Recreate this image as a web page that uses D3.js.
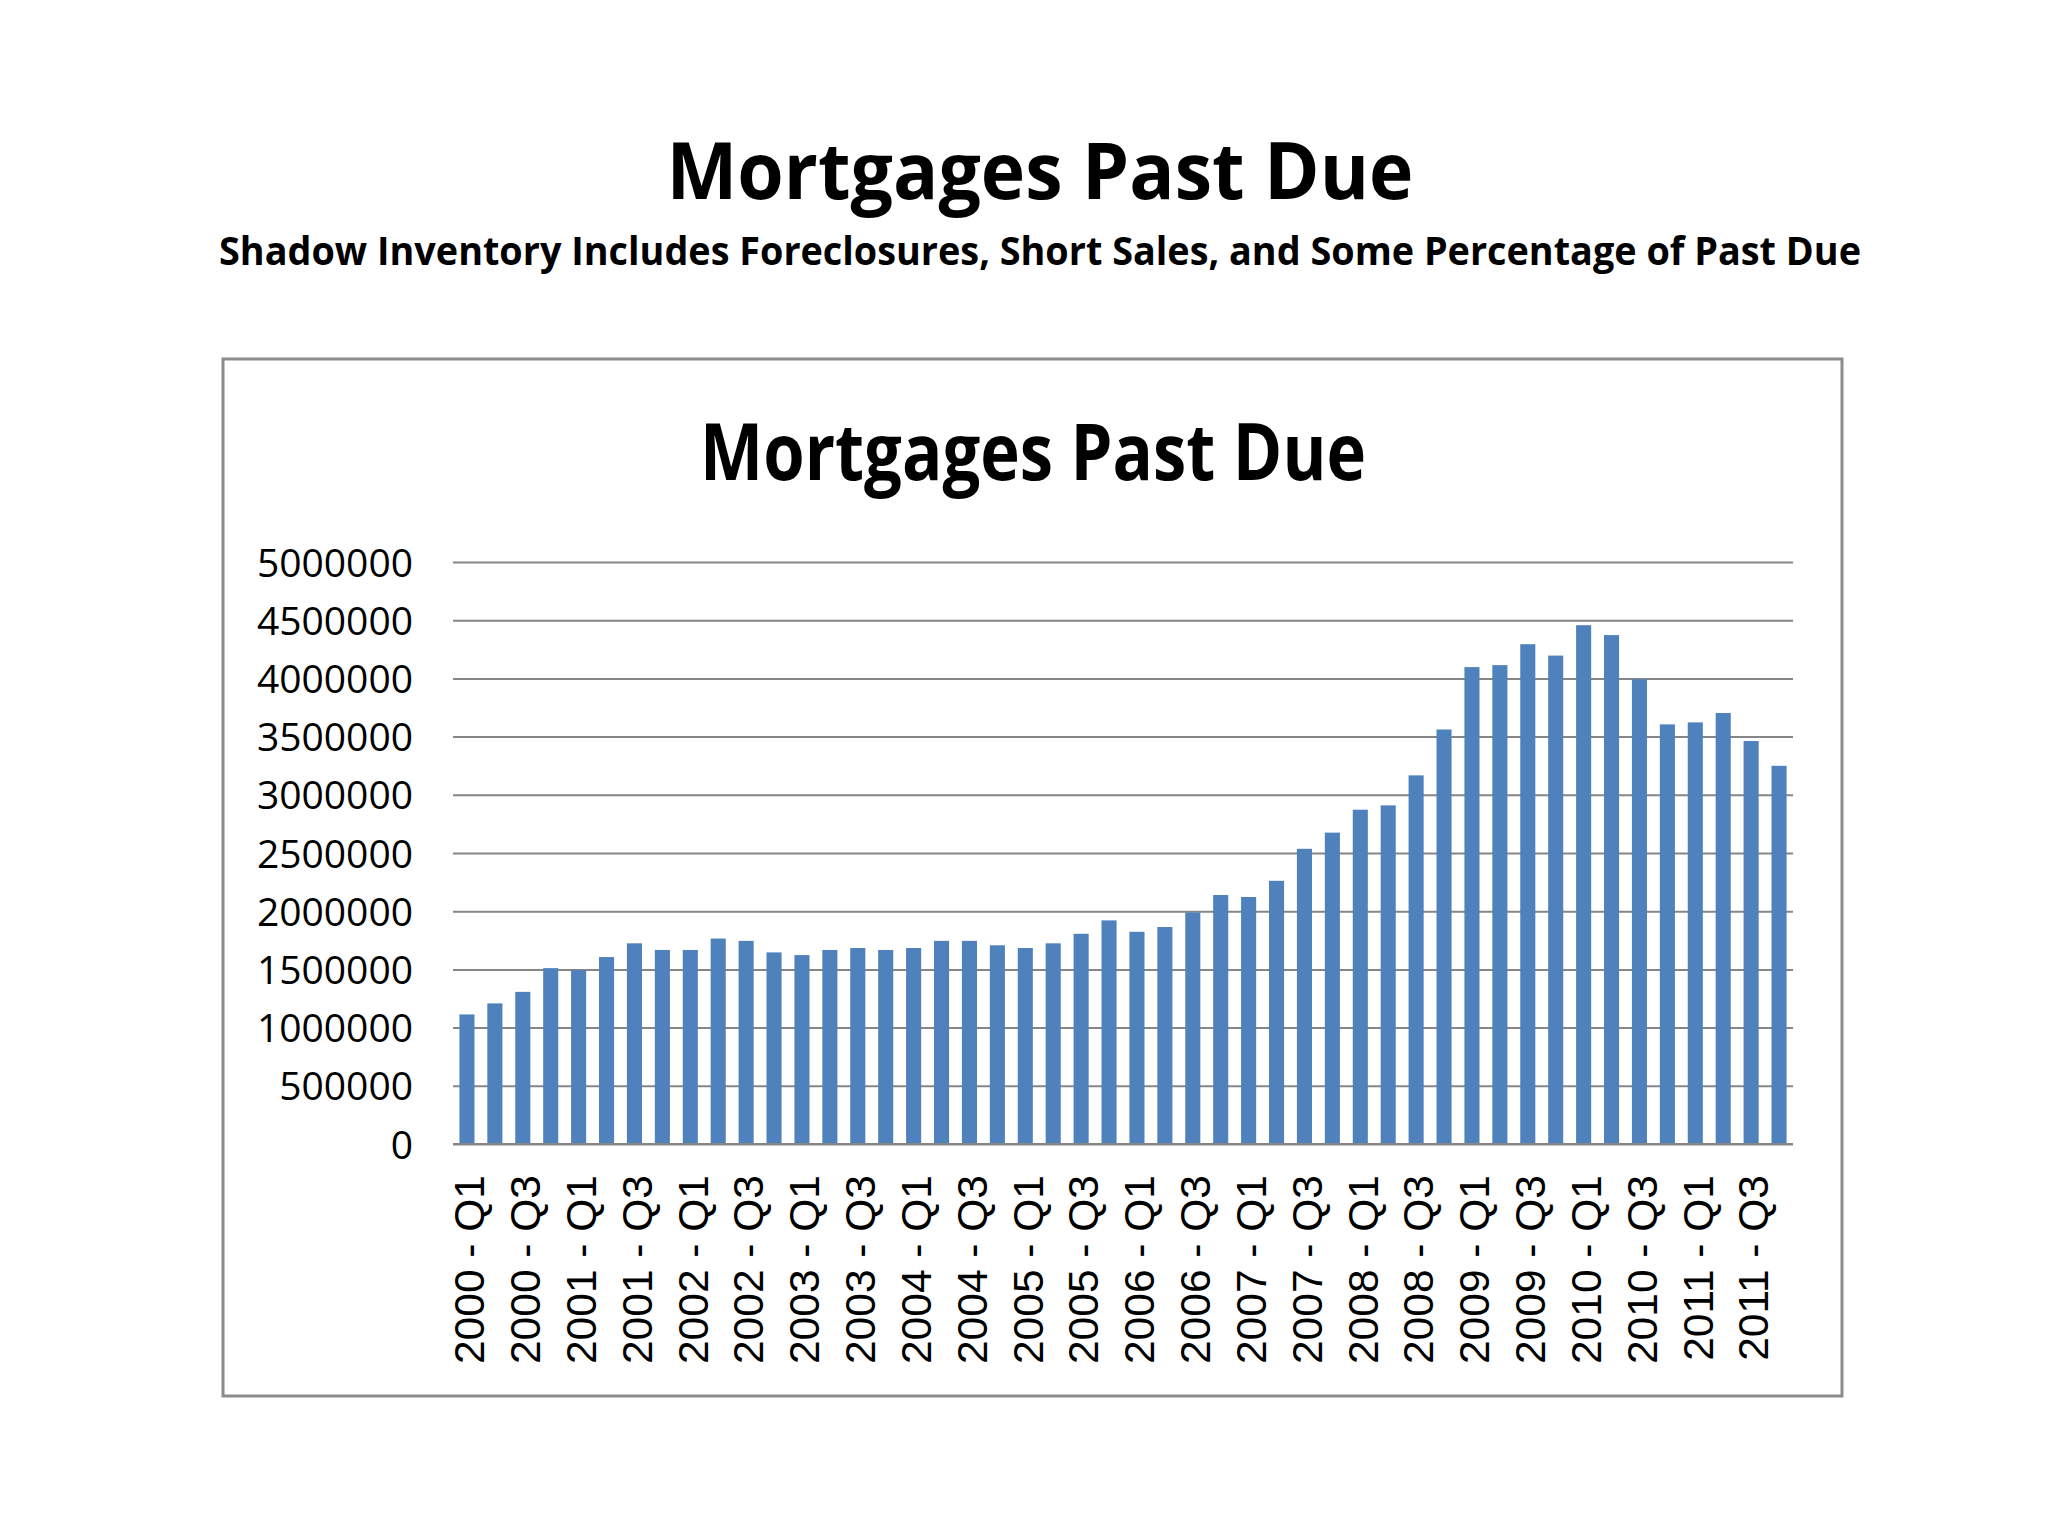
<!DOCTYPE html>
<html>
<head>
<meta charset="utf-8">
<script src="https://cdn.jsdelivr.net/npm/d3@7"></script>
<style>
  body { margin: 0; background: #fff; }
</style>
</head>
<body>
<div id="visual"></div>
<script>

///// DATA /////
var years = ["2000", "2001", "2002", "2003", "2004", "2005", "2006", "2007", "2008", "2009", "2010", "2011"];
var quarters = ["Q1", "Q2", "Q3", "Q4"];

// past due mortgages per quarter, 2000 Q1 .. 2011 Q4
var pastDue = [
	1113000, 1208000, 1307000, 1511000, 1494000, 1606000, 1724000, 1667000,
	1667000, 1765000, 1745000, 1646000, 1623000, 1667000, 1684000, 1667000,
	1684000, 1745000, 1745000, 1707000, 1684000, 1724000, 1806000, 1921000,
	1823000, 1864000, 1989000, 2139000, 2122000, 2261000, 2536000, 2675000,
	2872000, 2909000, 3167000, 3561000, 4097000, 4114000, 4294000, 4196000,
	4457000, 4372000, 3992000, 3605000, 3622000, 3703000, 3462000, 3249000
];

var yTicks = [0, 500000, 1000000, 1500000, 2000000, 2500000, 3000000, 3500000, 4000000, 4500000, 5000000];

var pageTitle = "Mortgages Past Due";
var pageSubtitle = "Shadow Inventory Includes Foreclosures, Short Sales, and Some Percentage of Past Due";
var chartTitle = "Mortgages Past Due";

// "2000 - Q1", "2000 - Q2", ...
var categories = [];
years.forEach(function(y) {
	quarters.forEach(function(q) { categories.push(y + " - " + q); });
});

///// DIMENSIONS /////
var W = 2048, H = 1536;
var plot = { left: 453, right: 1793, top: 562, bottom: 1144 };
var box = { x: 223, y: 359, w: 1619, h: 1037 };

var barColor = "#4f81bd",
	gridColor = "#868686";

var svg = d3.select("#visual")
	.append("svg")
	.attr("width", W)
	.attr("height", H)
	.style("background", "#fff");

///// PAGE TITLES /////
svg.append("text")
	.attr("x", 1040).attr("y", 199)
	.attr("text-anchor", "middle")
	.attr("textLength", 747)
	.attr("lengthAdjust", "spacingAndGlyphs")
	.style("font-family", "'Open Sans', sans-serif")
	.style("font-weight", 700)
	.style("font-size", "78px")
	.text(pageTitle);

svg.append("text")
	.attr("x", 1040).attr("y", 265)
	.attr("text-anchor", "middle")
	.attr("textLength", 1642)
	.attr("lengthAdjust", "spacingAndGlyphs")
	.style("font-family", "'Open Sans', sans-serif")
	.style("font-weight", 700)
	.style("font-size", "39px")
	.text(pageSubtitle);

///// CHART BOX /////
svg.append("rect")
	.attr("x", box.x).attr("y", box.y)
	.attr("width", box.w).attr("height", box.h)
	.attr("fill", "#fff")
	.attr("stroke", "#8c8c8c")
	.attr("stroke-width", 3);

svg.append("text")
	.attr("x", 1033).attr("y", 480)
	.attr("text-anchor", "middle")
	.attr("textLength", 666)
	.attr("lengthAdjust", "spacingAndGlyphs")
	.style("font-family", "'Open Sans', sans-serif")
	.style("font-weight", 700)
	.style("font-size", "78px")
	.text(chartTitle);

///// SCALES /////
var xScale = d3.scaleBand()
	.domain(categories)
	.range([plot.left, plot.right])
	.paddingInner(0.46)
	.paddingOuter(0.23);

var yScale = d3.scaleLinear()
	.domain([0, 5000000])
	.range([plot.bottom, plot.top]);

///// GRID + Y AXIS /////
var yAxis = d3.axisLeft(yScale)
	.tickValues(yTicks)
	.tickSize(-(plot.right - plot.left))
	.tickPadding(40)
	.tickFormat(d3.format("d"));

var yG = svg.append("g")
	.attr("transform", "translate(" + plot.left + ",0)")
	.call(yAxis);

yG.select(".domain").remove();
yG.selectAll(".tick line")
	.attr("stroke", gridColor)
	.attr("stroke-width", 2);
yG.selectAll(".tick text")
	.attr("x", 413 - plot.left)
	.attr("dy", "0.36em")
	.attr("fill", "#000")
	.style("font-family", "'Open Sans', sans-serif")
	.style("font-size", "39px");

///// BARS /////
svg.append("g").selectAll("rect")
	.data(pastDue).enter().append("rect")
	.attr("x", function(d, i) { return xScale(categories[i]); })
	.attr("y", function(d) { return yScale(d); })
	.attr("width", xScale.bandwidth())
	.attr("height", function(d) { return yScale(0) - yScale(d); })
	.attr("fill", barColor);

// category axis line
svg.append("line")
	.attr("x1", plot.left).attr("x2", plot.right)
	.attr("y1", yScale(0)).attr("y2", yScale(0))
	.attr("stroke", gridColor)
	.attr("stroke-width", 2);

///// X LABELS (every other quarter) /////
var shown = categories.filter(function(d, i) { return i % 2 === 0; });

svg.append("g").selectAll("text")
	.data(shown).enter().append("text")
	.attr("transform", function(d) {
		var cx = xScale(d) + xScale.bandwidth() / 2 + 2;
		return "translate(" + cx + ",1175) rotate(-90)";
	})
	.attr("dy", "0.36em")
	.attr("text-anchor", "end")
	.style("font-family", "'Liberation Sans', Arial, sans-serif")
	.style("font-size", "42.5px")
	.text(function(d) { return d; });

</script>
</body>
</html>
